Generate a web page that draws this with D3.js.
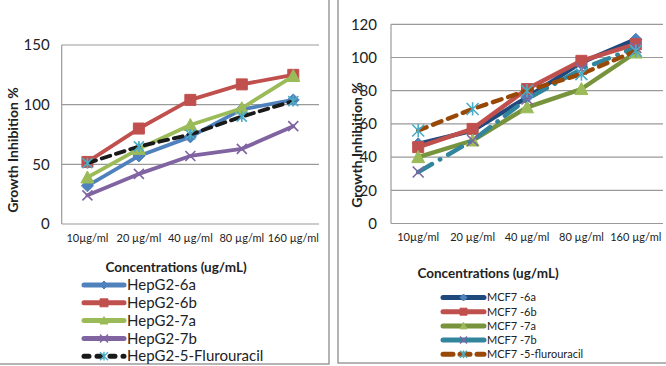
<!DOCTYPE html>
<html><head><meta charset="utf-8">
<script src="https://cdn.jsdelivr.net/npm/d3@7"></script>
<style>body{margin:0;background:#fff}svg{display:block}text{font-family:Lato,"Open Sans",sans-serif;fill:#222}</style>
</head><body>
<svg id="c" width="666" height="366"></svg>
<script>
const categories = ["10µg/ml", "20 µg/ml", "40 µg/ml", "80 µg/ml", "160 µg/ml"];
const leftTicks = [0, 50, 100, 150];
const rightTicks = [0, 20, 40, 60, 80, 100, 120];
const hepg2_6a = [32, 57, 73, 96, 104];
const hepg2_6b = [52, 80, 104, 117, 125];
const hepg2_7a = [39, 63, 83, 97, 124];
const hepg2_7b = [24, 42, 57, 63, 82];
const hepg2_5fu = [51, 65, 75, 90, 103];
const mcf7_6a = [48, 56, 76, 97, 111];
const mcf7_6b = [46, 57, 81, 98, 108];
const mcf7_7a = [40, 50, 70, 81, 103];
const mcf7_7b = [31, 50, 75, 93, 106];
const mcf7_5fu = [56, 69, 80, 90, 104];
const leftNames = ["HepG2-6a", "HepG2-6b", "HepG2-7a", "HepG2-7b", "HepG2-5-Flurouracil"];
const rightNames = ["MCF7 -6a", "MCF7 -6b", "MCF7 -7a", "MCF7 -7b", "MCF7 -5-flurouracil"];

const svg = d3.select("#c");

function markerPath(type, s) {
  const h = s / 2;
  if (type === "diamond") return `M0,${-h}L${h},0L0,${h}L${-h},0Z`;
  if (type === "square") return `M${-h},${-h}H${h}V${h}H${-h}Z`;
  if (type === "triangle") return `M0,${-h}L${h},${h*0.85}L${-h},${h*0.85}Z`;
  if (type === "x") return `M${-h},${-h}L${h},${h}M${-h},${h}L${h},${-h}`;
  if (type === "star") return `M${-h},${-h}L${h},${h}M${-h},${h}L${h},${-h}M0,${-h*1.1}V${h*1.1}`;
}

const leftSeries = [
  {name: leftNames[0], values: hepg2_6a, line: "#4F81BD", mark: "#4F81BD", type: "diamond", size: 12},
  {name: leftNames[1], values: hepg2_6b, line: "#C0504D", mark: "#C0504D", type: "square", size: 11},
  {name: leftNames[2], values: hepg2_7a, line: "#9BBB59", mark: "#9BBB59", type: "triangle", size: 13},
  {name: leftNames[3], values: hepg2_7b, line: "#8064A2", mark: "#8064A2", type: "x", size: 10},
  {name: leftNames[4], values: hepg2_5fu, line: "#1a1a1a", mark: "#4BACC6", type: "star", size: 10, dash: "9,6"}
];
const rightSeries = [
  {name: rightNames[0], values: mcf7_6a, line: "#1F497D", mark: "#4F81BD", type: "diamond", size: 12},
  {name: rightNames[1], values: mcf7_6b, line: "#C0504D", mark: "#C0504D", type: "square", size: 11},
  {name: rightNames[2], values: mcf7_7a, line: "#77933C", mark: "#9BBB59", type: "triangle", size: 13},
  {name: rightNames[3], values: mcf7_7b, line: "#31859C", mark: "#8064A2", type: "x", size: 11, dash: "16,9,0.5,9"},
  {name: rightNames[4], values: mcf7_5fu, line: "#984807", mark: "#4BACC6", type: "star", size: 12, dash: "9,7"}
];

function drawPanel(cfg) {
  const g = svg.append("g");
  g.append("rect").attr("x", cfg.box[0]).attr("y", cfg.box[1]).attr("width", cfg.box[2]).attr("height", cfg.box[3])
    .attr("fill", "none").attr("stroke", "#8c8c8c").attr("stroke-width", 1.3);
  const x = d3.scaleBand().domain(categories).range([cfg.x0, cfg.x1]).padding(0);
  const y = d3.scaleLinear().domain([0, cfg.ymax]).range([cfg.y0, cfg.y1]);
  g.selectAll(".grid").data(cfg.ticks).join("line")
    .attr("x1", cfg.x0).attr("x2", cfg.x1).attr("y1", d => y(d)).attr("y2", d => y(d))
    .attr("stroke", "#9a9a9a").attr("stroke-width", 1.2);
  g.append("line").attr("x1", cfg.x0).attr("x2", cfg.x0).attr("y1", cfg.y0).attr("y2", cfg.y1)
    .attr("stroke", "#9a9a9a").attr("stroke-width", 1.2);
  const ya = d3.axisLeft(y).tickValues(cfg.ticks).tickSize(0).tickPadding(cfg.ytPad);
  const yg = g.append("g").attr("transform", `translate(${cfg.x0},0)`).call(ya);
  yg.select(".domain").remove();
  yg.selectAll("text").style("font-size", cfg.ytSize + "px").style("font-family", "Lato, sans-serif").attr("fill", "#222");
  const xa = d3.axisBottom(x).tickSize(0).tickPadding(cfg.xtPad);
  const xg = g.append("g").attr("transform", `translate(0,${cfg.y0})`).call(xa);
  xg.select(".domain").remove();
  xg.selectAll("text").style("font-size", "11px").style("font-family", "Lato, sans-serif").attr("fill", "#222");
  g.append("text").attr("transform", `translate(${cfg.ytitleX},${cfg.ytitleY}) rotate(-90)`)
    .attr("text-anchor", "middle").style("font-size", "14px").style("font-weight", "bold").text("Growth Inhibition %");
  g.append("text").attr("x", cfg.xtitleX).attr("y", cfg.xtitleY).attr("text-anchor", "middle")
    .style("font-size", "13.5px").style("font-weight", "bold").text("Concentrations (ug/mL)");
  const line = d3.line().x((d, i) => x(categories[i]) + x.bandwidth() / 2).y(d => y(d));
  cfg.series.forEach(s => {
    g.append("path").attr("d", line(s.values)).attr("fill", "none").attr("stroke", s.line)
      .attr("stroke-width", cfg.lw).attr("stroke-linecap", "round").attr("stroke-linejoin", "round")
      .attr("stroke-dasharray", s.dash || null);
    s.values.forEach((v, i) => {
      const px = x(categories[i]) + x.bandwidth() / 2, py = y(v);
      const lineType = s.type === "x" || s.type === "star";
      g.append("path").attr("d", markerPath(s.type, s.size)).attr("transform", `translate(${px},${py})`)
        .attr("fill", lineType ? "none" : s.mark).attr("stroke", s.mark).attr("stroke-width", lineType ? 1.6 : 1);
    });
  });
  cfg.series.forEach((s, i) => {
    const ly = cfg.legY + i * cfg.legStep;
    const lg = g.append("g");
    lg.append("line").attr("x1", cfg.legX).attr("x2", cfg.legX + cfg.legW).attr("y1", ly).attr("y2", ly)
      .attr("stroke", s.line).attr("stroke-width", cfg.legLw).attr("stroke-linecap", "round")
      .attr("stroke-dasharray", s.dash ? (s.type === "star" ? cfg.legDash : null) : null);
    const lt = s.type === "x" || s.type === "star";
    lg.append("path").attr("d", markerPath(s.type, cfg.legMk)).attr("transform", `translate(${cfg.legX + cfg.legW / 2},${ly})`)
      .attr("fill", lt ? "none" : s.mark).attr("stroke", s.mark).attr("stroke-width", lt ? 1.4 : 1);
    lg.append("text").attr("x", cfg.legX + cfg.legW + 3).attr("y", ly).attr("dy", "0.35em")
      .style("font-size", cfg.legFont + "px").text(s.name);
  });
}

drawPanel({
  box: [-1, -1, 330, 365], x0: 61.7, x1: 319, y0: 224, y1: 45, ymax: 150, ticks: leftTicks,
  ytPad: 12, ytSize: 15, xtPad: 10, lw: 3.8, series: leftSeries,
  ytitleX: 18, ytitleY: 150, xtitleX: 176, xtitleY: 272,
  legX: 84, legW: 40, legY: 285, legStep: 17.8, legLw: 5, legMk: 8, legFont: 15, legDash: "5,8"
});
drawPanel({
  box: [338, -1, 330, 364], x0: 391, x1: 663, y0: 223.5, y1: 24.3, ymax: 120, ticks: rightTicks,
  ytPad: 14, ytSize: 15, xtPad: 10, lw: 4.4, series: rightSeries,
  ytitleX: 362, ytitleY: 145, xtitleX: 488, xtitleY: 278,
  legX: 443, legW: 41, legY: 297.5, legStep: 14.2, legLw: 5, legMk: 7, legFont: 11, legDash: "10,7"
});
</script>
</body></html>
